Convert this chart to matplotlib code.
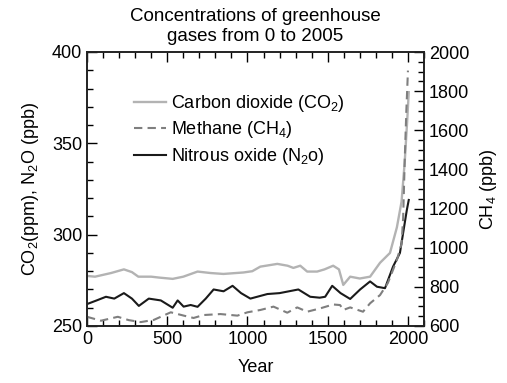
import matplotlib
matplotlib.use('Agg')
from matplotlib import pyplot as plt
from matplotlib.ticker import MultipleLocator

plt.rcParams['font.family'] = ['Liberation Sans', 'DejaVu Sans']
plt.rcParams['mathtext.fontset'] = 'custom'
plt.rcParams['mathtext.rm'] = 'Liberation Sans'
plt.rcParams['mathtext.it'] = 'Liberation Sans:italic'

# CO2 (ppm), left axis
co2_years = [0, 50, 100, 150, 230, 280, 320, 400, 450, 534, 600, 689, 770, 850, 975, 1030,
             1080, 1186, 1250, 1286, 1329, 1372, 1434, 1480, 1534, 1570, 1597, 1640, 1700,
             1764, 1826, 1888, 1931, 1960, 1980, 1995, 2005]
co2 = [277.4, 277, 278, 279, 281, 279.5, 277, 277, 276.5, 275.8, 277, 279.8, 279, 278.5,
       279.3, 280, 282.5, 284, 283, 281.8, 283, 279.8, 279.8, 281, 283, 281, 272.5, 277,
       276, 277, 284.6, 290, 304, 318, 340, 362, 378]

# N2O (ppb), left axis
n2o_years = [0, 60, 118, 170, 230, 280, 323, 385, 460, 534, 565, 602, 646, 689, 740, 789,
             851, 907, 960, 1018, 1124, 1200, 1317, 1391, 1450, 1484, 1528, 1580, 1640, 1702,
             1764, 1807, 1857, 1907, 1950, 1993, 2005]
n2o = [262, 264, 266, 265, 268, 265, 261, 265, 264, 260, 264, 260.6, 261.5, 260.5, 265, 270,
       269, 272, 268, 265, 267.5, 268, 270, 266, 265.5, 266, 272, 268, 264.8, 270,
       274.4, 271.5, 270.7, 282.5, 290, 313.5, 319]

# CH4 (ppb), right axis
ch4_years = [0, 87, 192, 260, 335, 416, 522, 603, 664, 726, 832, 937, 1000, 1081, 1162, 1248,
             1310, 1372, 1453, 1534, 1577, 1597, 1640, 1720, 1764, 1826, 1875, 1931, 1960,
             1970, 1980, 1990, 2000]
ch4 = [647, 627, 647, 630, 620, 631, 670, 653, 641, 656, 661, 653, 670, 682, 699, 668,
       695, 673, 690, 710, 707, 682, 695, 673, 716, 758, 820, 937, 1020, 1150, 1450, 1700, 1905]

fig = plt.figure(figsize=(5.07, 3.83), dpi=100)
ax = fig.add_axes([87/507, 1-326/383, 337/507, 274/383])
ax2 = ax.twinx()

l1, = ax.plot(co2_years, co2, color='#b3b3b3', linewidth=1.7, label='Carbon dioxide (CO$_2$)')
l3, = ax.plot(n2o_years, n2o, color='#1a1a1a', linewidth=1.5, label='Nitrous oxide (N$_2$o)')
l2, = ax2.plot(ch4_years, ch4, color='#7f7f7f', linewidth=1.5, linestyle=(0, (4, 2.5)),
               label='Methane (CH$_4$)')

ax.set_xlim(0, 2100)
ax.set_ylim(250, 400)
ax2.set_ylim(600, 2000)

ax.xaxis.set_major_locator(MultipleLocator(500))
ax.xaxis.set_minor_locator(MultipleLocator(100))
ax.yaxis.set_major_locator(MultipleLocator(50))
ax.yaxis.set_minor_locator(MultipleLocator(10))
ax2.yaxis.set_major_locator(MultipleLocator(200))
ax2.yaxis.set_minor_locator(MultipleLocator(50))

fs = 13
ax.tick_params(which='both', direction='in', top=True, right=False, labelsize=fs, width=1)
ax.tick_params(which='major', length=7)
ax.tick_params(which='minor', length=4)
ax2.tick_params(which='both', direction='in', labelsize=fs, width=1)
ax2.tick_params(which='major', length=7)
ax2.tick_params(which='minor', length=4)
for a in (ax, ax2):
    for s in a.spines.values():
        s.set_linewidth(1.2)
        s.set_color('#222222')

ax.set_xlabel('Year', fontsize=fs, labelpad=8)
ax.set_ylabel('CO$_2$(ppm), N$_2$O (ppb)', fontsize=fs, labelpad=8)
ax2.set_ylabel('CH$_4$ (ppb)', fontsize=fs, labelpad=6)
ax.set_title('Concentrations of greenhouse\ngases from 0 to 2005', fontsize=13.5,
             linespacing=1.25, pad=8)

fig.legend(handles=[l1, l2, l3], loc='upper left', bbox_to_anchor=(134/507, 1-93/383),
           frameon=False, fontsize=fs, handlelength=1.75, handletextpad=0.3,
           labelspacing=0.3, borderpad=0, borderaxespad=0)

fig.savefig('out.png', dpi=100)
